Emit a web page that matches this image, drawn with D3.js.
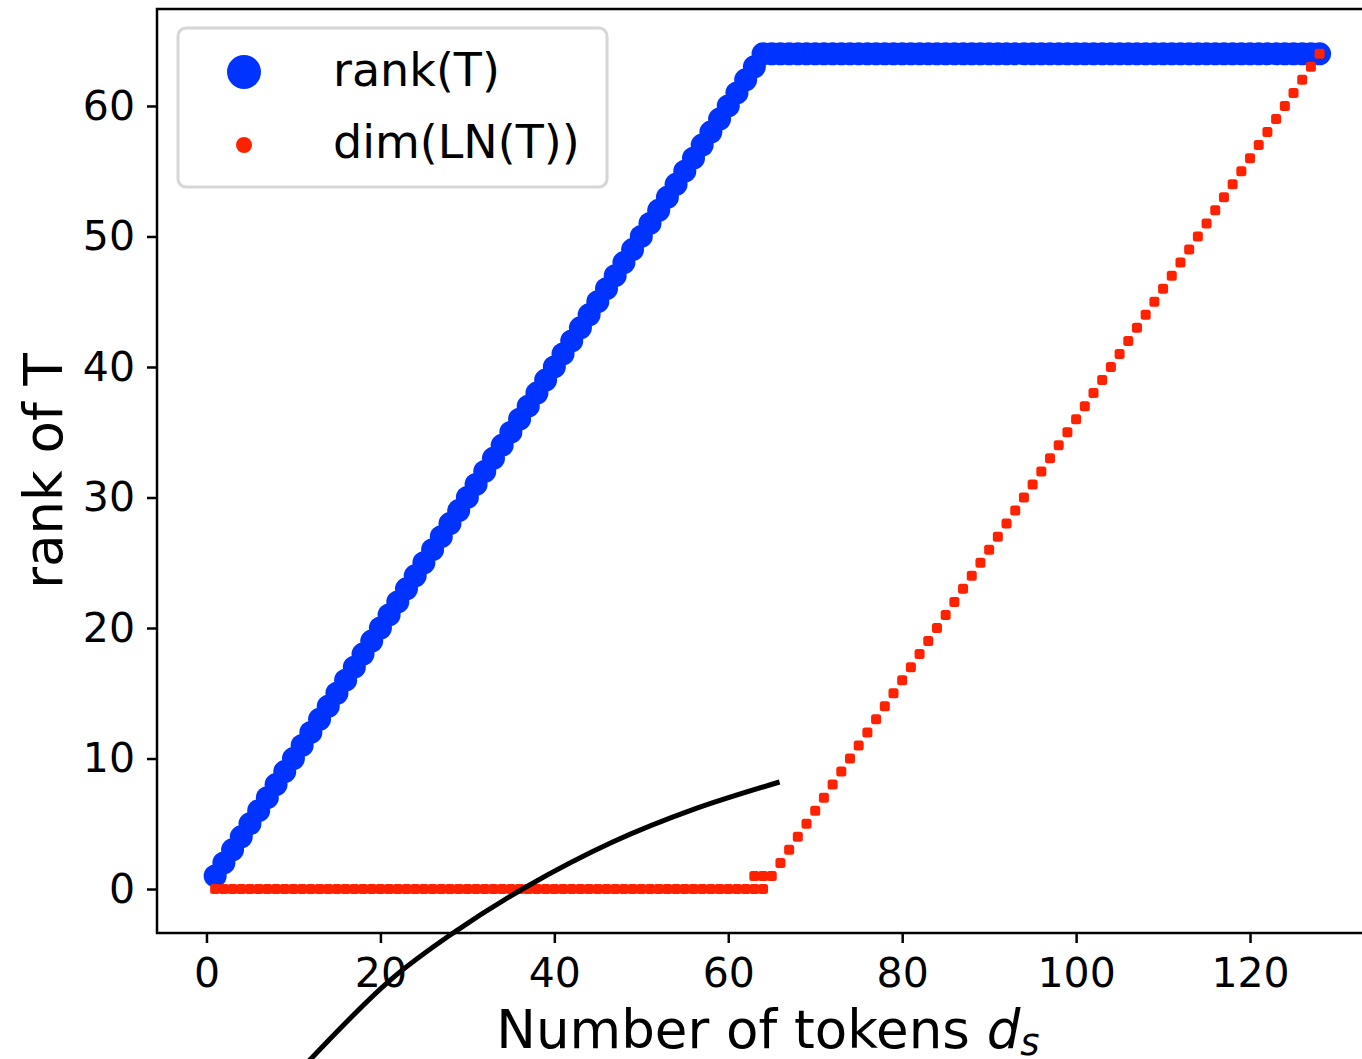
<!DOCTYPE html>
<html lang="en">
<head>
    <meta charset="UTF-8">
    <title>rank of T vs number of tokens</title>
    <script src="https://d3js.org/d3.v7.min.js"></script>
    <style>
        body { margin: 0; background: #fff; }
        svg { display: block; font-family: "DejaVu Sans", sans-serif; }
        .tick text { font-size: 41px; fill: #000; }
        .axis-label { font-size: 53px; fill: #000; }
        .legend text { font-size: 46px; fill: #000; }
    </style>
</head>
<body>
    <script>
        // x values: number of tokens d_s
        const tokens = [
            1, 2, 3, 4, 5, 6, 7, 8, 9, 10, 11, 12, 13, 14, 15, 16,
            17, 18, 19, 20, 21, 22, 23, 24, 25, 26, 27, 28, 29, 30, 31, 32,
            33, 34, 35, 36, 37, 38, 39, 40, 41, 42, 43, 44, 45, 46, 47, 48,
            49, 50, 51, 52, 53, 54, 55, 56, 57, 58, 59, 60, 61, 62, 63, 64,
            65, 66, 67, 68, 69, 70, 71, 72, 73, 74, 75, 76, 77, 78, 79, 80,
            81, 82, 83, 84, 85, 86, 87, 88, 89, 90, 91, 92, 93, 94, 95, 96,
            97, 98, 99, 100, 101, 102, 103, 104, 105, 106, 107, 108, 109, 110, 111, 112,
            113, 114, 115, 116, 117, 118, 119, 120, 121, 122, 123, 124, 125, 126, 127, 128
        ];

        // rank(T)
        const rankT = [
            1, 2, 3, 4, 5, 6, 7, 8, 9, 10, 11, 12, 13, 14, 15, 16,
            17, 18, 19, 20, 21, 22, 23, 24, 25, 26, 27, 28, 29, 30, 31, 32,
            33, 34, 35, 36, 37, 38, 39, 40, 41, 42, 43, 44, 45, 46, 47, 48,
            49, 50, 51, 52, 53, 54, 55, 56, 57, 58, 59, 60, 61, 62, 63, 64,
            64, 64, 64, 64, 64, 64, 64, 64, 64, 64, 64, 64, 64, 64, 64, 64,
            64, 64, 64, 64, 64, 64, 64, 64, 64, 64, 64, 64, 64, 64, 64, 64,
            64, 64, 64, 64, 64, 64, 64, 64, 64, 64, 64, 64, 64, 64, 64, 64,
            64, 64, 64, 64, 64, 64, 64, 64, 64, 64, 64, 64, 64, 64, 64, 64
        ];

        // dim(LN(T))
        const dimLN = [
            0, 0, 0, 0, 0, 0, 0, 0, 0, 0, 0, 0, 0, 0, 0, 0,
            0, 0, 0, 0, 0, 0, 0, 0, 0, 0, 0, 0, 0, 0, 0, 0,
            0, 0, 0, 0, 0, 0, 0, 0, 0, 0, 0, 0, 0, 0, 0, 0,
            0, 0, 0, 0, 0, 0, 0, 0, 0, 0, 0, 0, 0, 0, 0, 0,
            1, 2, 3, 4, 5, 6, 7, 8, 9, 10, 11, 12, 13, 14, 15, 16,
            17, 18, 19, 20, 21, 22, 23, 24, 25, 26, 27, 28, 29, 30, 31, 32,
            33, 34, 35, 36, 37, 38, 39, 40, 41, 42, 43, 44, 45, 46, 47, 48,
            49, 50, 51, 52, 53, 54, 55, 56, 57, 58, 59, 60, 61, 62, 63, 64
        ];
        // a couple of extra dim points sitting at 1 near d_s = 64
        const dimExtraX = [63, 64];
        const dimExtraY = [1, 1];

        const xTicks = [0, 20, 40, 60, 80, 100, 120];
        const yTicks = [0, 10, 20, 30, 40, 50, 60];

        const seriesNames = ["rank(T)", "dim(LN(T))"];
        const blue = "#0033ff";
        const red = "#ff2200";

        // hand-drawn annotation stroke over the plot (in data units)
        const strokeX = [11.6, 21.1, 28.3, 36.6, 46.7, 56.0, 65.9];
        const strokeY = [-13.3, -7.0, -3.4, 0.1, 3.6, 6.1, 8.2];

        const width = 1362, height = 1059;
        const plotL = 157, plotT = 9, plotR = 1377, plotB = 933;

        const x = d3.scaleLinear().domain([-5.69, 134.6]).range([plotL, plotR]);
        const y = d3.scaleLinear().domain([-3.37, 67.43]).range([plotB, plotT]);

        const svg = d3.select("body").append("svg")
            .attr("width", width)
            .attr("height", height);

        // blue rank(T) points
        svg.append("g")
            .selectAll("circle")
            .data(tokens.map((t, i) => [t, rankT[i]]))
            .join("circle")
            .attr("cx", d => x(d[0]))
            .attr("cy", d => y(d[1]))
            .attr("r", 11.5)
            .attr("fill", blue);

        // red dim(LN(T)) points
        const redPts = tokens.map((t, i) => [t, dimLN[i]])
            .concat(dimExtraX.map((t, i) => [t, dimExtraY[i]]));
        svg.append("g")
            .selectAll("rect")
            .data(redPts)
            .join("rect")
            .attr("x", d => x(d[0]) - 5)
            .attr("y", d => y(d[1]) - 5)
            .attr("width", 10)
            .attr("height", 10)
            .attr("rx", 2.5)
            .attr("fill", red);

        // axes frame (right side runs off the picture)
        svg.append("rect")
            .attr("x", plotL).attr("y", plotT)
            .attr("width", plotR - plotL).attr("height", plotB - plotT)
            .attr("fill", "none")
            .attr("stroke", "#000")
            .attr("stroke-width", 2.5);

        const xAxis = svg.append("g")
            .attr("transform", `translate(0,${plotB})`)
            .call(d3.axisBottom(x).tickValues(xTicks).tickSize(10).tickPadding(12));
        const yAxis = svg.append("g")
            .attr("transform", `translate(${plotL},0)`)
            .call(d3.axisLeft(y).tickValues(yTicks).tickSize(10).tickPadding(12));
        [xAxis, yAxis].forEach(a => {
            a.select(".domain").remove();
            a.selectAll(".tick line").attr("stroke", "#000").attr("stroke-width", 2.5);
            a.attr("font-family", null).attr("font-size", null);
        });
        xAxis.selectAll(".tick text").attr("dy", "0.78em");

        // axis labels
        const xl = svg.append("text")
            .attr("class", "axis-label")
            .attr("x", 768)
            .attr("y", 1048)
            .attr("text-anchor", "middle");
        xl.append("tspan").text("Number of tokens ");
        xl.append("tspan").attr("font-style", "italic").text("d");
        xl.append("tspan").attr("font-style", "italic")
            .attr("font-size", "37px").attr("dy", 7).text("s");

        svg.append("text")
            .attr("class", "axis-label")
            .attr("transform", `translate(62,${(plotT + plotB) / 2}) rotate(-90)`)
            .attr("text-anchor", "middle")
            .text("rank of T");

        // legend
        const lg = svg.append("g").attr("class", "legend");
        lg.append("rect")
            .attr("x", 178).attr("y", 28)
            .attr("width", 429).attr("height", 159)
            .attr("rx", 8)
            .attr("fill", "#fff")
            .attr("fill-opacity", 0.8)
            .attr("stroke", "#d6d6d6")
            .attr("stroke-width", 3);
        lg.append("circle").attr("cx", 244).attr("cy", 72).attr("r", 17).attr("fill", blue);
        lg.append("circle").attr("cx", 244).attr("cy", 145).attr("r", 8).attr("fill", red);
        lg.append("text").attr("x", 333).attr("y", 86).text(seriesNames[0]);
        lg.append("text").attr("x", 333).attr("y", 158).text(seriesNames[1]);

        // black annotation stroke
        svg.append("path")
            .datum(strokeX.map((v, i) => [v, strokeY[i]]))
            .attr("fill", "none")
            .attr("stroke", "#000")
            .attr("stroke-width", 5)
            .attr("d", d3.line().x(d => x(d[0])).y(d => y(d[1])).curve(d3.curveCatmullRom));
    </script>
</body>
</html>
